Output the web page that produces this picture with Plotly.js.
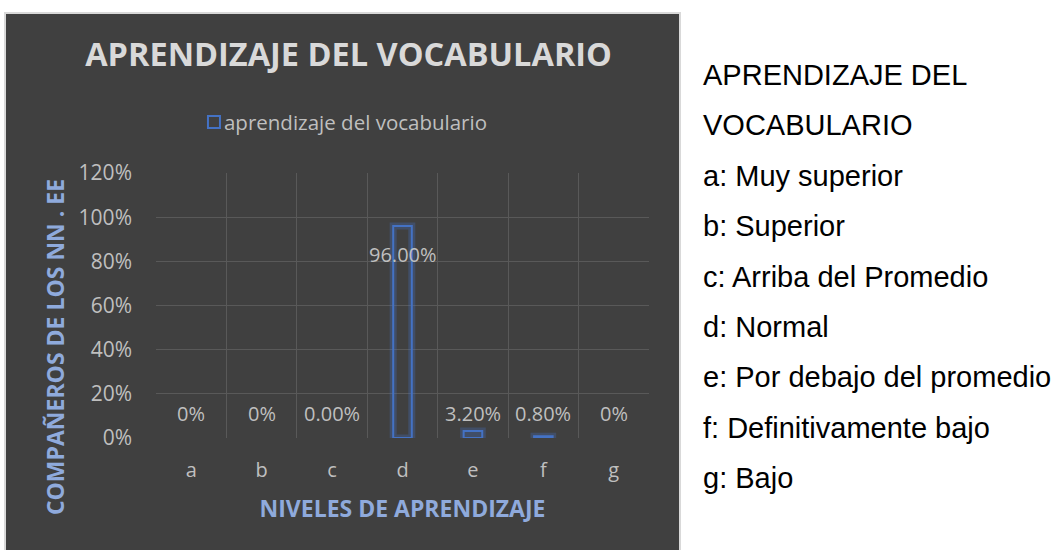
<!DOCTYPE html>
<html>
<head>
<meta charset="utf-8">
<script src="https://cdn.plot.ly/plotly-3.0.1.min.js"></script>
<style>
  html, body { margin: 0; padding: 0; background: #ffffff; width: 1057px; height: 550px; overflow: hidden; }
  #panel { position: absolute; left: 4px; top: 12px; width: 673px; height: 538px; border: 2px solid #d9d9d9; border-bottom: none; }
  #chart { width: 673px; height: 538px; }
  #side { position: absolute; left: 703px; top: 50px; font-family: "Liberation Sans", Arial, sans-serif; font-size: 29px; line-height: 50.4px; color: #000; white-space: nowrap; }
</style>
</head>
<body>
<div id="panel"><div id="chart"></div></div>
<div id="side"></div>
<script>
const categories = ["a", "b", "c", "d", "e", "f", "g"];
const values = [0, 0, 0, 0.96, 0.032, 0.008, 0];
const valueLabels = ["0%", "0%", "0.00%", "96.00%", "3.20%", "0.80%", "0%"];
const seriesName = "aprendizaje del vocabulario";
const chartTitle = "APRENDIZAJE DEL VOCABULARIO";
const xTitle = "NIVELES DE APRENDIZAJE";
const yTitle = "COMPAÑEROS DE LOS NN . EE";
const sideTitle = ["APRENDIZAJE DEL", "VOCABULARIO"];
const sideItems = ["a: Muy superior", "b: Superior", "c: Arriba del Promedio", "d: Normal",
  "e: Por debajo del promedio", "f: Definitivamente bajo", "g: Bajo"];

document.getElementById("side").innerHTML = sideTitle.concat(sideItems).map(s => "<div>" + s + "</div>").join("");

const blue = "#4472c4";
const font = "'Open Sans', 'DejaVu Sans', sans-serif";
const shown = values.map(v => (v > 0 ? v : null));

const glow = {
  type: "bar", x: categories, y: shown, width: 0.264, showlegend: false, hoverinfo: "skip",
  marker: { color: "rgba(0,0,0,0)", line: { color: "rgba(68,114,196,0.3)", width: 7 } }
};
const bars = {
  type: "bar", x: categories, y: shown, width: 0.264, name: seriesName,
  marker: { color: "rgba(0,0,0,0)", line: { color: blue, width: 2 } }
};

const annotations = categories.map((c, i) => ({
  x: c, y: values[i] > 0.5 ? values[i] : 0, xref: "x", yref: "y",
  text: valueLabels[i], showarrow: false,
  yshift: values[i] > 0.5 ? -28 : 25,
  font: { family: font, size: 20, color: "#bfbfbf" }
}));
annotations.push({
  xref: "paper", yref: "paper", x: 0, y: 0.343, xshift: -101,
  xanchor: "center", yanchor: "middle", showarrow: false,
  textangle: -90, text: "<b>" + yTitle + "</b>",
  font: { family: font, size: 23, color: "#8faadc" }
});

const layout = {
  width: 673, height: 538,
  margin: { l: 150, r: 30, t: 159, b: 114 },
  paper_bgcolor: "#404040", plot_bgcolor: "#404040",
  barmode: "overlay",
  font: { family: font, color: "#bfbfbf" },
  title: {
    text: "<b>" + chartTitle + "</b>", xref: "container", x: 0.509, xanchor: "center",
    yref: "container", y: 0.924, yanchor: "middle",
    font: { family: font, size: 32.5, color: "#d9d9d9" }
  },
  showlegend: true,
  legend: {
    orientation: "h", x: 0.077, xanchor: "left", y: 1.192, yanchor: "middle",
    font: { family: font, size: 20.5, color: "#bfbfbf" }, bgcolor: "rgba(0,0,0,0)"
  },
  xaxis: {
    type: "category", tickson: "boundaries", showgrid: true, gridcolor: "#595959", gridwidth: 1,
    showline: false, zeroline: false, ticks: "", ticklabelstandoff: 18,
    tickfont: { family: font, size: 20, color: "#bfbfbf" },
    title: { text: "<b>" + xTitle + "</b>", standoff: 18, font: { family: font, size: 23, color: "#8faadc" } }
  },
  yaxis: {
    range: [0, 1.2], dtick: 0.2, tickformat: ".0%", showgrid: true, gridcolor: "#595959", gridwidth: 1,
    zeroline: false, showline: false, ticks: "", ticklabelstandoff: 23,
    tickfont: { family: font, size: 21, color: "#bfbfbf" }
  },
  annotations: annotations
};

Plotly.newPlot("chart", [glow, bars], layout, { displayModeBar: false, staticPlot: true }).then(gd => {
  gd.querySelectorAll(".legendtext").forEach(t => t.setAttribute("x", "30"));
});
</script>
</body>
</html>
